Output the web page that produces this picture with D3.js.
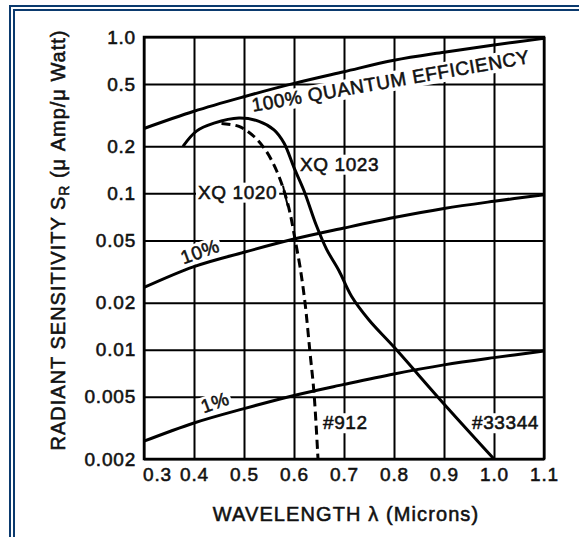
<!DOCTYPE html>
<html>
<head>
<meta charset="utf-8">
<script src="https://cdn.jsdelivr.net/npm/d3@7"></script>
<style>
body { margin: 0; background: #fff; }
svg text { font-family: "Liberation Sans", Arial, sans-serif; fill: #111; stroke: #111; stroke-width: 0.55px; }
</style>
</head>
<body>
<div id="chart"></div>
<script>
// axis ticks
var wavelengthTicks = [0.3, 0.4, 0.5, 0.6, 0.7, 0.8, 0.9, 1.0, 1.1];
var xTickLabels = ["0.3", "0.4", "0.5", "0.6", "0.7", "0.8", "0.9", "1.0", "1.1"];
var sensTicks = [1, 0.5, 0.2, 0.1, 0.05, 0.02, 0.01, 0.005, 0.002];
var yTickLabels = ["1.0", "0.5", "0.2", "0.1", "0.05", "0.02", "0.01", "0.005", "0.002"];

// quantum efficiency reference lines (read at each tick)
var qeWavelengths = [0.3, 0.4, 0.5, 0.6, 0.7, 0.8, 0.9, 1.0, 1.1];
var qe100 = [0.26, 0.335, 0.415, 0.505, 0.60, 0.71, 0.80, 0.89, 0.98];
var qe10 = [0.025, 0.034, 0.042, 0.051, 0.060, 0.070, 0.080, 0.089, 0.098];
var qe1 = [0.0026, 0.0034, 0.0042, 0.0051, 0.0060, 0.0070, 0.0080, 0.0089, 0.0098];

// XQ 1023 / #33344 (solid)
var xq1023Wavelengths = [0.378, 0.405, 0.44, 0.49, 0.53, 0.56, 0.58, 0.60, 0.62, 0.645, 0.665, 0.69, 0.715, 0.75, 0.80, 0.90, 1.00];
var xq1023Values = [0.20, 0.25, 0.281, 0.303, 0.289, 0.255, 0.21, 0.146, 0.104, 0.062, 0.044, 0.032, 0.022, 0.0155, 0.0104, 0.0045, 0.002];

// XQ 1020 / #912 (dashed)
var xq1020Wavelengths = [0.455, 0.49, 0.52, 0.545, 0.565, 0.58, 0.592, 0.602, 0.612, 0.622, 0.632, 0.64, 0.648];
var xq1020Values = [0.28, 0.268, 0.231, 0.185, 0.14, 0.104, 0.075, 0.051, 0.034, 0.02, 0.0096, 0.0053, 0.002];

var width = 579, height = 537;
var margin = {top: 37, right: 35, bottom: 78, left: 144};
var w = width - margin.left - margin.right,
    h = height - margin.top - margin.bottom;

var svg = d3.select("#chart").append("svg")
    .attr("width", width)
    .attr("height", height);

// blue double frame round the picture
[[10, 6], [14, 10]].forEach(function(p) {
  svg.append("rect")
    .attr("x", p[0]).attr("y", p[1])
    .attr("width", width).attr("height", height)
    .attr("fill", "none")
    .attr("stroke", "#0b3a6e")
    .attr("stroke-width", 2);
});

var g = svg.append("g")
    .attr("transform", "translate(" + margin.left + "," + margin.top + ")");

var x = d3.scaleLinear().domain([0.3, 1.1]).range([0, w]);
var y = d3.scaleLog().domain([0.002, 1]).range([h, 0]);

var yAxis = d3.axisLeft(y)
    .tickValues(sensTicks)
    .tickFormat(function(d, i) { return yTickLabels[i]; })
    .tickSizeInner(-w).tickSizeOuter(0).tickPadding(8);

var xAxis = d3.axisBottom(x)
    .tickValues(wavelengthTicks)
    .tickFormat(function(d, i) { return xTickLabels[i]; })
    .tickSizeInner(-h).tickSizeOuter(0).tickPadding(9);

var gy = g.append("g").call(yAxis);
var gx = g.append("g").attr("transform", "translate(0," + h + ")").call(xAxis);

[gx, gy].forEach(function(a) {
  a.attr("font-family", null).attr("font-size", null);
  a.select(".domain").remove();
  a.selectAll(".tick line").attr("stroke", "#000").attr("stroke-width", 2);
  a.selectAll(".tick text")
    .style("font-size", "19px")
    .style("letter-spacing", "0.8px")
    .attr("fill", "#111");
});
// first x label is pushed right, clear of 0.002
gx.selectAll(".tick text").attr("dx", function(d, i) { return i == 0 ? 13 : 0; });

var bgLayer = g.append("g");
var curveLayer = g.append("g");
var frameLayer = g.append("g");
var labelLayer = g.append("g");

var line = d3.line()
    .x(function(d) { return x(d[0]); })
    .y(function(d) { return y(d[1]); })
    .curve(d3.curveCatmullRom.alpha(0.5));

function pairs(xs, ys) { return xs.map(function(v, i) { return [v, ys[i]]; }); }

[qe100, qe10, qe1].forEach(function(s) {
  curveLayer.append("path")
    .datum(pairs(qeWavelengths, s))
    .attr("d", line)
    .attr("fill", "none")
    .attr("stroke", "#000")
    .attr("stroke-width", 3);
});

curveLayer.append("path")
  .datum(pairs(xq1023Wavelengths, xq1023Values))
  .attr("d", line)
  .attr("fill", "none")
  .attr("stroke", "#000")
  .attr("stroke-width", 3);

curveLayer.append("path")
  .datum(pairs(xq1020Wavelengths, xq1020Values))
  .attr("d", line)
  .attr("fill", "none")
  .attr("stroke", "#000")
  .attr("stroke-width", 3)
  .attr("stroke-dasharray", "9,5");

// little leader from XQ 1020 to the dashed curve
curveLayer.append("path")
  .datum([[0.578, 0.112], [0.583, 0.095], [0.588, 0.082]])
  .attr("d", line)
  .attr("fill", "none")
  .attr("stroke", "#000")
  .attr("stroke-width", 2);

frameLayer.append("rect")
  .attr("width", w).attr("height", h)
  .attr("fill", "none")
  .attr("stroke", "#000")
  .attr("stroke-width", 2.5);

// curve labels, each on a white patch that breaks the grid
var labels = [
  {text: "100% QUANTUM EFFICIENCY", lam: 0.518, val: 0.332, angle: -10, anchor: "start"},
  {text: "XQ 1020", lam: 0.408, val: 0.0925, angle: 0, anchor: "start"},
  {text: "XQ 1023", lam: 0.612, val: 0.1396, angle: 0, anchor: "start"},
  {text: "10%", lam: 0.412, val: 0.0425, angle: -20, anchor: "middle"},
  {text: "1%", lam: 0.442, val: 0.0046, angle: -20, anchor: "middle"},
  {text: "#912", lam: 0.658, val: 0.0031, angle: 0, anchor: "start"},
  {text: "#33344", lam: 0.956, val: 0.0031, angle: 0, anchor: "start"}
];

labels.forEach(function(d) {
  var tr = "translate(" + x(d.lam) + "," + y(d.val) + ") rotate(" + d.angle + ")";
  var t = labelLayer.append("text")
    .attr("transform", tr)
    .attr("text-anchor", d.anchor)
    .attr("dy", d.anchor == "middle" ? "0.35em" : 0)
    .style("font-size", "19px")
    .style("letter-spacing", "0.6px")
    .text(d.text);
  var b = t.node().getBBox();
  bgLayer.append("rect")
    .attr("transform", tr)
    .attr("x", b.x - 2).attr("y", b.y + 1)
    .attr("width", b.width + 4).attr("height", b.height - 1)
    .attr("fill", "#fff");
});

// axis titles
svg.append("text")
  .attr("x", margin.left + w / 2 + 2)
  .attr("y", 521)
  .attr("text-anchor", "middle")
  .style("font-size", "20px")
  .style("letter-spacing", "1.1px")
  .text("WAVELENGTH λ (Microns)");

var yt = svg.append("text")
  .attr("transform", "translate(65," + (margin.top + h / 2 - 8) + ") rotate(-90)")
  .attr("text-anchor", "middle")
  .style("font-size", "20px")
  .style("letter-spacing", "1px");
yt.append("tspan").text("RADIANT SENSITIVITY S");
yt.append("tspan").attr("dy", 4).style("font-size", "14px").text("R");
yt.append("tspan").attr("dy", -4).text(" (μ Amp/μ Watt)");
</script>
</body>
</html>
